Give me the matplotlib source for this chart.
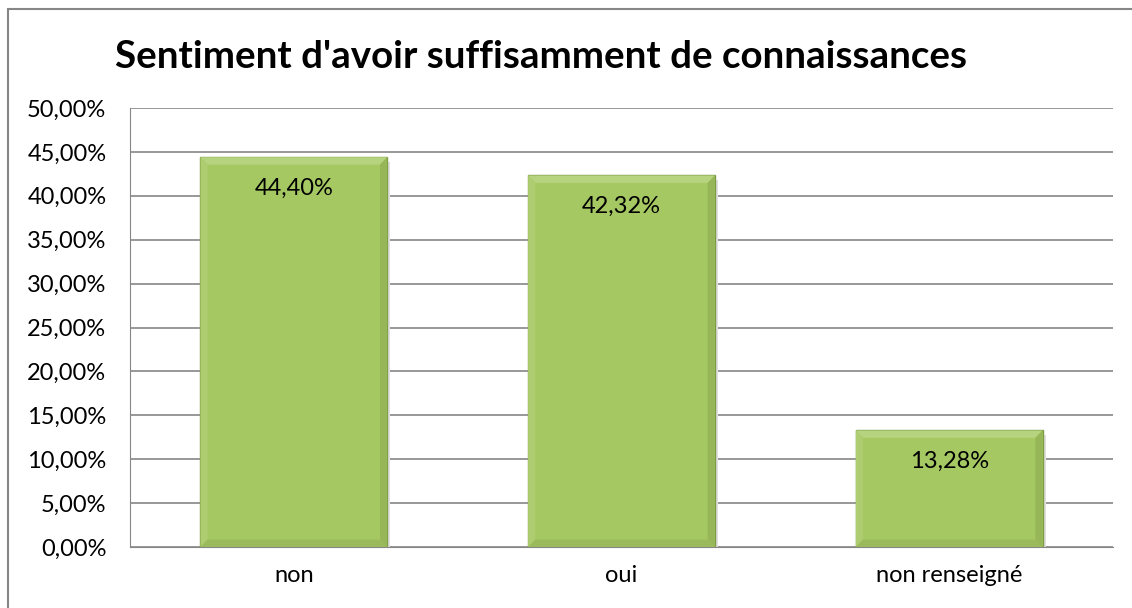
import matplotlib.pyplot as plt
from matplotlib.patches import Rectangle, Polygon

categories = ['non', 'oui', 'non renseigné']
values = [44.40, 42.32, 13.28]
yticks = [0, 5, 10, 15, 20, 25, 30, 35, 40, 45, 50]

plt.rcParams['font.family'] = ['Lato', 'DejaVu Sans']

fig = plt.figure(figsize=(11.32, 6.08), dpi=100)
W, H = 1132, 608

# outer chart border (runs off the right and bottom of the image)
fig.patches.append(Rectangle((8 / W, -0.1), 2.0, 1 - 9 / H + 0.1, transform=fig.transFigure,
                             fill=False, edgecolor='#868686', linewidth=1.5))

ax = fig.add_axes([130 / W, 1 - 547 / H, (1113 - 130) / W, (547 - 108) / H])

x = range(len(categories))
bw = 0.57
bars = ax.bar(x, values, width=bw, color='#a5c862', edgecolor='#7f9c44', linewidth=1.0, zorder=3)

# bevel look: light top/left edge, darker right/bottom edge
bx = 0.022   # bevel width in x units
by = 0.85    # bevel height in y units
for b in bars:
    x0, x1 = b.get_x(), b.get_x() + b.get_width()
    y1 = b.get_height()
    ax.add_patch(Polygon([(x0, y1), (x1, y1), (x1 - bx, y1 - by), (x0 + bx, y1 - by)],
                         closed=True, facecolor='#b6d37f', edgecolor='none', zorder=3.5))
    ax.add_patch(Polygon([(x0, 0), (x0, y1), (x0 + bx, y1 - by), (x0 + bx, by)],
                         closed=True, facecolor='#adcd70', edgecolor='none', zorder=3.5))
    ax.add_patch(Polygon([(x1, 0), (x1, y1), (x1 - bx, y1 - by), (x1 - bx, by)],
                         closed=True, facecolor='#97b658', edgecolor='none', zorder=3.5))
    ax.add_patch(Polygon([(x0, 0), (x1, 0), (x1 - bx, by), (x0 + bx, by)],
                         closed=True, facecolor='#9bba5c', edgecolor='none', zorder=3.5))
    # soft shadow to the right
    ax.add_patch(Rectangle((x1, 0.0), 0.01, y1 - 0.5, facecolor='#e0e0e0', edgecolor='none', zorder=2.5))

for b, v in zip(bars, values):
    ax.text(b.get_x() + b.get_width() / 2, v - 3.5, f'{v:.2f}%'.replace('.', ','),
            ha='center', va='center', fontsize=17, color='black', zorder=4)

ax.set_xlim(-0.5, 2.5)
ax.set_ylim(0, 50)
ax.set_yticks(yticks)
ax.set_yticklabels([f'{t:.2f}%'.replace('.', ',') for t in yticks], fontsize=17)
ax.set_xticks(list(x))
ax.set_xticklabels(categories, fontsize=17)
ax.tick_params(axis='y', length=0, pad=17)
ax.tick_params(axis='x', length=0, pad=13)
ax.yaxis.grid(True, color='#868686', linewidth=1.2, zorder=0)

for s in ['top', 'right']:
    ax.spines[s].set_visible(False)
ax.spines['left'].set_color('#868686')
ax.spines['bottom'].set_color('#868686')

fig.text(541 / W, 1 - 57 / H, "Sentiment d'avoir suffisamment de connaissances",
         ha='center', va='center', fontsize=27.7, fontweight='bold')

fig.savefig('out.png', dpi=100)
